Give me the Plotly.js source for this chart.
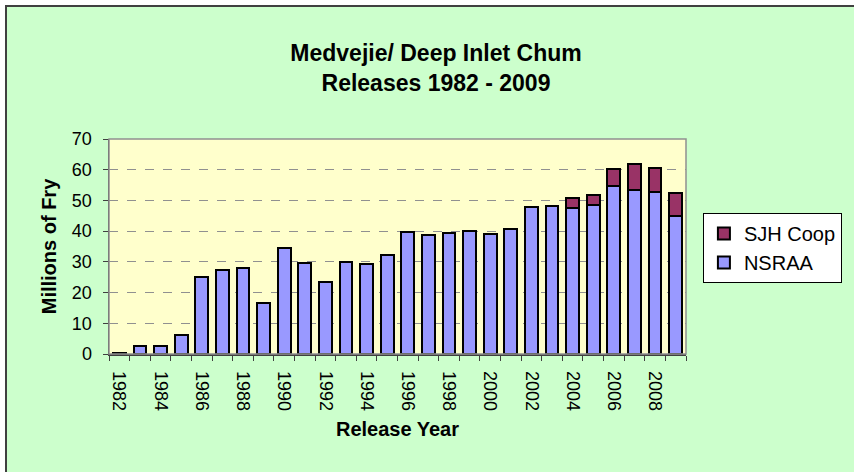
<!DOCTYPE html>
<html>
<head>
<meta charset="utf-8">
<script src="https://cdn.plot.ly/plotly-3.0.1.min.js"></script>
<style>
  html, body { margin: 0; padding: 0; background: #ffffff; overflow: hidden; }
  #wrap { position: relative; width: 854px; height: 472px; overflow: hidden; background: #ffffff; }
  #frame { position: absolute; left: 5px; top: 5px; width: 900px; height: 520px;
           background: #CCFFCC; border-left: 2px solid #404040; border-top: 2px solid #404040; }
  #chart { position: absolute; left: 0; top: 0; width: 854px; height: 472px; }
</style>
</head>
<body>
<div id="wrap">
  <div id="frame"></div>
  <div id="chart"></div>
</div>
<script>
const years = [1982,1983,1984,1985,1986,1987,1988,1989,1990,1991,1992,1993,1994,1995,
               1996,1997,1998,1999,2000,2001,2002,2003,2004,2005,2006,2007,2008,2009];
const nsraa = [0.4,2.5,2.5,6.3,25.2,27.5,28.1,16.5,34.4,29.6,23.4,29.8,29.2,32.1,
               39.6,38.6,39.3,39.9,39.2,40.8,47.7,48.1,47.5,48.6,54.8,53.3,52.8,44.8];
const sjhCoop = [null,null,null,null,null,null,null,null,null,null,null,null,null,null,
                 null,null,null,null,null,null,null,null,3.4,3.3,5.3,8.6,7.8,7.6];
const tickYears = [1982,1984,1986,1988,1990,1992,1994,1996,1998,2000,2002,2004,2006,2008];
const seriesNames = ['NSRAA', 'SJH Coop'];
const seriesColors = ['#9999FF', '#993366'];

const FONT = 'Liberation Sans, Arial, sans-serif';

const traces = [
  { type: 'bar', name: seriesNames[0], x: years, y: nsraa, width: 0.62,
    marker: { color: seriesColors[0], line: { color: '#000000', width: 2 } } },
  { type: 'bar', name: seriesNames[1], x: years, y: sjhCoop, width: 0.62,
    marker: { color: seriesColors[1], line: { color: '#000000', width: 2 } } }
];

const layout = {
  width: 854, height: 472,
  paper_bgcolor: 'rgba(0,0,0,0)',
  plot_bgcolor: '#FFFFCC',
  barmode: 'stack',
  margin: { l: 109, r: 165, t: 139, b: 118, pad: 0 },
  font: { family: FONT, color: '#000000', size: 18 },
  title: {
    text: '<b>Medvejie/ Deep Inlet Chum</b><br><b>Releases 1982 - 2009</b>',
    font: { family: FONT, size: 23, color: '#000000' },
    x: 436 / 854, xref: 'container', xanchor: 'center',
    y: 1 - 61 / 472, yref: 'container', yanchor: 'middle'
  },
  xaxis: {
    range: [1981.5, 2009.5],
    tickvals: tickYears,
    ticktext: tickYears.map(String),
    tickangle: 90,
    ticks: '',
    ticklabelstandoff: 12,
    tickfont: { family: FONT, size: 18, color: '#000000' },
    minor: { ticks: 'outside', tick0: 1981.5, dtick: 1, ticklen: 5, tickcolor: '#404040', tickwidth: 1, showgrid: false },
    showline: true, linecolor: '#404040', linewidth: 1.5,
    mirror: false, showgrid: false, zeroline: false,
    automargin: false,
    title: { text: '<b>Release Year</b>', font: { family: FONT, size: 20, color: '#000000' }, standoff: 12 }
  },
  yaxis: {
    range: [0, 70], dtick: 10, tick0: 0,
    ticks: 'outside', ticklen: 5, tickcolor: '#404040', tickwidth: 1,
    ticklabelstandoff: 7,
    tickfont: { family: FONT, size: 18, color: '#000000' },
    showline: true, linecolor: '#404040', linewidth: 1.5,
    showgrid: true, gridcolor: '#909090', griddash: 'dash', gridwidth: 1,
    zeroline: false,
    automargin: false,
    title: { text: '<b>Millions of Fry</b>', font: { family: FONT, size: 20, color: '#000000' }, standoff: 10 }
  },
  shapes: [
    { type: 'rect', xref: 'paper', yref: 'paper', x0: 0, x1: 1, y0: 0, y1: 1,
      line: { color: '#909090', width: 1.5 }, fillcolor: 'rgba(0,0,0,0)', layer: 'above' }
  ],
  showlegend: true,
  legend: {
    x: (706 - 109) / 580, xanchor: 'left',
    y: (354 - 213) / 215, yanchor: 'top',
    xref: 'paper', yref: 'paper',
    bgcolor: '#FFFFFF', bordercolor: '#000000', borderwidth: 1,
    traceorder: 'reversed',
    font: { family: FONT, size: 20, color: '#000000' }
  },
  bargap: 0.38
};

Plotly.newPlot('chart', traces, layout, { staticPlot: true, displayModeBar: false });
</script>
</body>
</html>
